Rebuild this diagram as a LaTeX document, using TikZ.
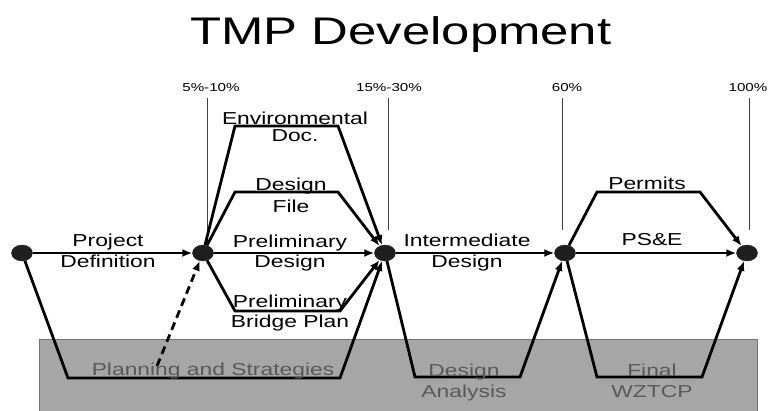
\documentclass[tikz,border=0pt]{standalone}
\usepackage{fontspec}
\setmainfont{Liberation Sans}
\newfontfamily\lblfont[FakeStretch=1.32]{Liberation Sans}
\usetikzlibrary{arrows.meta,shapes.geometric}

\begin{document}
\begin{tikzpicture}[x=1pt,y=-1pt,
  milestone/.style={ellipse,fill=black!88,draw=black!88,minimum width=21pt,minimum height=16pt,inner sep=0pt},
  task/.style={line width=2.8pt,-{Latex[length=10pt,width=8pt]}},
  lbl/.style={font=\lblfont\fontsize{17.3}{21}\selectfont,align=center,anchor=base,inner sep=0pt},
  pct/.style={font=\lblfont\fontsize{11.5}{13}\selectfont,anchor=base,inner sep=0pt},
  tick/.style={line width=0.7pt,black!75}]
\useasboundingbox (0,0) rectangle (769,410);

% Title
\node[font=\lblfont\fontsize{38.5}{44}\selectfont,anchor=base] (title) at (401,44) {TMP Development};

% Support band
\fill[black!35,draw=black!55,line width=0.8pt] (39,339) rectangle (757,414);

% Milestones
\node[milestone] (m0) at (22,253) {};
\node[milestone] (m1) at (203,253) {};
\node[milestone] (m2) at (385,253) {};
\node[milestone] (m3) at (565,253) {};
\node[milestone] (m4) at (747,253) {};

% Percent complete marks
\foreach \m/\x/\c/\lab/\y in {m1/207/211/5\%-10\%/245, m2/388/389/15\%-30\%/230,
                              m3/562/567/60\%/230, m4/749/748/100\%/230} {
  \node[pct] (p\m) at (\c,91.5) {\lab};
  \draw[tick] (\x,98) -- (\x,\y);
}

% Corner points
\coordinate (ed1) at (235,126); \coordinate (ed2) at (338,126);
\coordinate (df1) at (235,192); \coordinate (df2) at (338,192);
\coordinate (bp1) at (235,311); \coordinate (bp2) at (340,311);
\coordinate (ps1) at (68,378);  \coordinate (ps2) at (340,378);
\coordinate (da1) at (415,377); \coordinate (da2) at (520,377);
\coordinate (pm1) at (597,192); \coordinate (pm2) at (700,192);
\coordinate (fw1) at (597,377); \coordinate (fw2) at (702,377);
\coordinate (dsh) at (157,366);

% Tasks
\draw[task] (m0) -- (m1);
\draw[task] (m0) -- (ps1) -- (ps2) -- (m2);
\draw[task,dash pattern=on 8pt off 5pt] (dsh) -- (m1);
\draw[task] (m1) -- (ed1) -- (ed2) -- (m2);
\draw[task] (m1) -- (df1) -- (df2) -- (m2);
\draw[task] (m1) -- (m2);
\draw[task] (m1) -- (bp1) -- (bp2) -- (m2);
\draw[task] (m2) -- (m3);
\draw[task] (m2) -- (da1) -- (da2) -- (m3);
\draw[task] (m3) -- (pm1) -- (pm2) -- (m4);
\draw[task] (m3) -- (m4);
\draw[task] (m3) -- (fw1) -- (fw2) -- (m4);

% Labels (base = last line)
\node[lbl] (pd) at (108,267) {Project\\Definition};
\node[lbl] (ed) at (295,141) {Environmental\\[-4pt]Doc.};
\node[lbl] (df) at (291,212) {Design\\[1pt]File};
\node[lbl] (pr) at (290,267) {Preliminary\\[-1pt]Design};
\node[lbl] (bp) at (290,327) {Preliminary\\[-1pt]Bridge Plan};
\node[lbl,text=black!65] (ps) at (213,375) {Planning and Strategies};
\node[lbl] (id) at (467,267) {Intermediate\\Design};
\node[lbl,text=black!65] (da) at (464,397) {Design\\Analysis};
\node[lbl] (pm) at (647,189) {Permits};
\node[lbl] (pse) at (652,245) {PS\&E};
\node[lbl,text=black!65] (fw) at (652,397) {Final\\WZTCP};
\end{tikzpicture}
\end{document}
